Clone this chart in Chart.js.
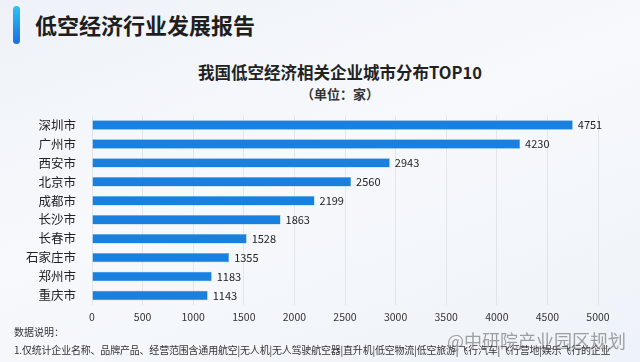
<!DOCTYPE html>
<html>
<head>
<meta charset="utf-8">
<script src="https://cdn.jsdelivr.net/npm/chart.js@4"></script>
<style>
  html, body { margin: 0; padding: 0; }
  body {
    width: 640px; height: 362px; overflow: hidden; position: relative;
    background: linear-gradient(160deg, #eef2f8 0%, #f7f9fc 45%, #eef3f9 100%);
    font-family: "Noto Sans CJK SC", sans-serif; color: #222;
  }
  .bar { position: absolute; left: 13px; top: 6px; width: 7px; height: 38px; border-radius: 4px;
    background: linear-gradient(180deg, #2cc3f5, #1a6fe0); }
  .head { position: absolute; left: 35px; top: 9px; font-size: 22px; font-weight: bold; line-height: 30px; color: #1e1e1e; }
  .ttl { position: absolute; left: 0; width: 680px; top: 61px; text-align: center; font-size: 16.5px; font-weight: bold; color: #222; line-height: 22px; }
  .sub { position: absolute; left: 0; width: 680px; top: 84px; text-align: center; font-size: 13px; font-weight: bold; color: #333; line-height: 20px; }
  .note1 { position: absolute; left: 14px; top: 324px; font-size: 10px; color: #333; }
  .note2 { position: absolute; left: 14px; top: 342px; font-size: 10px; color: #333; letter-spacing: -0.2px; }
  .wm { position: absolute; left: 447px; top: 327px; font-size: 18px; color: rgba(90,90,90,0.55); }
  #wrap { position: absolute; left: 0; top: 100px; width: 640px; height: 225px; }
</style>
</head>
<body>
<div class="bar"></div>
<div class="head">低空经济行业发展报告</div>
<div class="ttl">我国低空经济相关企业城市分布TOP10</div>
<div class="sub">（单位：家）</div>
<div id="wrap"><canvas id="myChart"></canvas></div>
<div class="note1">数据说明：</div>
<div class="note2">1.仅统计企业名称、品牌产品、经营范围含通用航空|无人机|无人驾驶航空器|直升机|低空物流|低空旅游|飞行汽车|飞行营地|娱乐飞行的企业</div>
<div class="wm">@中研院产业园区规划</div>
<script>
// data
var cities = ['深圳市', '广州市', '西安市', '北京市', '成都市', '长沙市', '长春市', '石家庄市', '郑州市', '重庆市'];
var counts = [4751, 4230, 2943, 2560, 2199, 1863, 1528, 1355, 1183, 1143];
var xTicks = [0, 500, 1000, 1500, 2000, 2500, 3000, 3500, 4000, 4500, 5000];

// value labels at bar end
var valueLabels = {
    id: 'valueLabels',
    afterDatasetsDraw: function (chart) {
        var ctx = chart.ctx;
        var meta = chart.getDatasetMeta(0);
        ctx.save();
        ctx.font = '11px "Noto Sans CJK SC"';
        ctx.fillStyle = '#222';
        ctx.textBaseline = 'middle';
        meta.data.forEach(function (bar, i) {
            ctx.fillText(counts[i], bar.x + 5, bar.y);
        });
        ctx.restore();
    }
};

const data = {
    labels: cities,
    datasets: [{
        data: counts,
        backgroundColor: '#1a80e0',
        borderColor: '#5fb0f0',
        borderWidth: 0.5,
        barPercentage: 0.5,
        categoryPercentage: 1
    }]
};

const config = {
    type: 'bar',
    data: data,
    options: {
        indexAxis: 'y',
        responsive: true,
        maintainAspectRatio: false,
        animation: false,
        layout: { padding: { top: 11, right: 42, left: 0, bottom: 0 } },
        plugins: { legend: { display: false }, tooltip: { enabled: false } },
        scales: {
            x: {
                min: 0, max: 5000,
                afterBuildTicks: function (s) { s.ticks = xTicks.map(function (v) { return { value: v }; }); },
                afterFit: function (s) { s.height = 20; },
                grid: { color: 'rgba(0,0,0,0.07)', drawTicks: false },
                border: { display: false },
                ticks: {
                    color: '#333', padding: 6, font: { size: 10.5, family: 'Noto Sans CJK SC' },
                    callback: function (v) { return String(v); }
                }
            },
            y: {
                afterFit: function (s) { s.width = 92; },
                grid: { display: false },
                border: { display: false },
                ticks: { color: '#222', padding: 8, font: { size: 12.5, family: 'Noto Sans CJK SC' } }
            }
        }
    },
    plugins: [valueLabels]
};

var myChart = new Chart(document.getElementById('myChart'), config);
</script>
</body>
</html>
